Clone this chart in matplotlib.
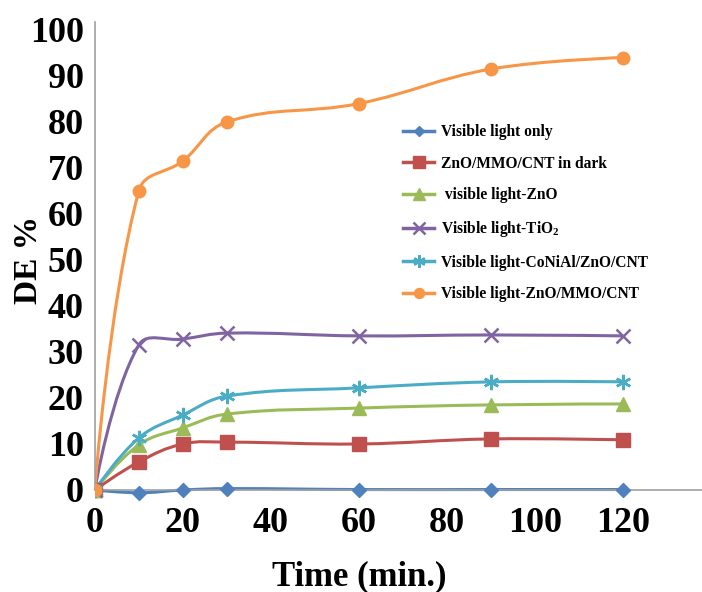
import numpy as np
import matplotlib
matplotlib.use('Agg')
from matplotlib import pyplot as plt
from matplotlib.path import Path
from matplotlib.patches import PathPatch
from matplotlib.lines import Line2D

plt.rcParams['font.family'] = ['Liberation Serif', 'DejaVu Serif']
plt.rcParams['font.weight'] = 'bold'
plt.rcParams['mathtext.fontset'] = 'custom'
plt.rcParams['mathtext.rm'] = 'Liberation Serif:bold'
plt.rcParams['mathtext.it'] = 'Liberation Serif:bold'
plt.rcParams['mathtext.bf'] = 'Liberation Serif:bold'

# 数据
time = [0, 10, 20, 30, 60, 90, 120]
names = ['Visible light only', 'ZnO/MMO/CNT in dark', ' visible light-ZnO',
         'Visible light-TiO$_2$', 'Visible light-CoNiAl/ZnO/CNT',
         'Visible light-ZnO/MMO/CNT']
light_only = [0, -0.6, 0.0, 0.3, 0.1, 0.1, 0.1]
dark = [0, 6.1, 10.0, 10.4, 10.0, 11.1, 10.9]
zno = [0, 9.8, 13.5, 16.5, 17.8, 18.5, 18.7]
tio2 = [0, 31.5, 32.8, 34.1, 33.5, 33.7, 33.5]
conial = [0, 11.3, 16.3, 20.4, 22.2, 23.5, 23.5]
zno_mmo = [0, 65, 71.5, 80, 84, 91.5, 94]
series = [light_only, dark, zno, tio2, conial, zno_mmo]

colors = ['#4F81BD', '#C0504D', '#9BBB59', '#8064A2', '#4BACC6', '#F79646']
markers = ['D', 's', '^', 'x', (6, 2, 0), 'o']
msizes = [7, 10, 10, 10, 11, 9]


def smooth_path(x, y, t=0.4, sx=4.4, sy=4.6):
    # 平滑曲线, 类似 Excel 的平滑线
    p = np.column_stack([x, y]).astype(float)
    n = len(p)
    scale = np.array([sx, sy])
    d = [np.linalg.norm((p[i + 1] - p[i]) * scale) for i in range(n - 1)]
    cin = [p[0]] * n
    cout = [p[0]] * n
    cin[n - 1] = p[n - 1]
    for i in range(1, n - 1):
        tan = p[i + 1] - p[i - 1]
        s = d[i - 1] + d[i]
        cin[i] = p[i] - tan * t * d[i - 1] / s
        cout[i] = p[i] + tan * t * d[i] / s
    verts = [p[0]]
    codes = [Path.MOVETO]
    for i in range(n - 1):
        verts += [cout[i], cin[i + 1], p[i + 1]]
        codes += [Path.CURVE4] * 3
    return Path(verts, codes)


fig = plt.figure(figsize=(7.02, 5.92), dpi=100)
ax = fig.add_axes([0.135, 0.02, 0.865, 0.9426])
ax.set_xlim(0, 138)
ax.set_ylim(-19.6, 101.7)

handles = []
for vals, c, m, ms, nm in zip(series, colors, markers, msizes, names):
    ax.add_patch(PathPatch(smooth_path(time, vals), facecolor='none',
                           edgecolor=c, lw=2.2, zorder=2))
    mew = 1.8 if m in ('x', (6, 2, 0)) else 1
    ax.plot(time, vals, linestyle='none', marker=m, color=c, ms=ms,
            mew=mew, zorder=3)
    handles.append(Line2D([], [], color=c, lw=2.5, marker=m, ms=ms * 0.8,
                          mew=mew, label=nm))

for s in ['top', 'right']:
    ax.spines[s].set_visible(False)
ax.spines['bottom'].set_position(('data', 0))
ax.spines['left'].set_bounds(0, 101.7)
for s in ['left', 'bottom']:
    ax.spines[s].set_color('#A0A0A0')
    ax.spines[s].set_linewidth(1.2)

ax.set_xticks(range(0, 121, 20))
ax.set_yticks(range(0, 101, 10))
ax.tick_params(length=0, labelsize=26)
ax.tick_params(axis='y', pad=8)
ax.tick_params(axis='x', pad=12)
for t in ax.get_xticklabels() + ax.get_yticklabels():
    t.set_fontweight('bold')

ax.text(-15, 50, 'DE %', rotation=90, fontsize=24, fontweight='bold',
        ha='center', va='center')
ax.text(60, -18.9, 'Time (min.)', fontsize=25, fontweight='bold',
        ha='center', va='center')

ax.legend(handles=handles, loc='upper left', bbox_to_anchor=(0.485, 0.842),
          frameon=False, prop={'size': 11.2, 'weight': 'bold'},
          handlelength=2.0, labelspacing=1.0, handletextpad=0.4)

fig.savefig('out.png', dpi=100)
